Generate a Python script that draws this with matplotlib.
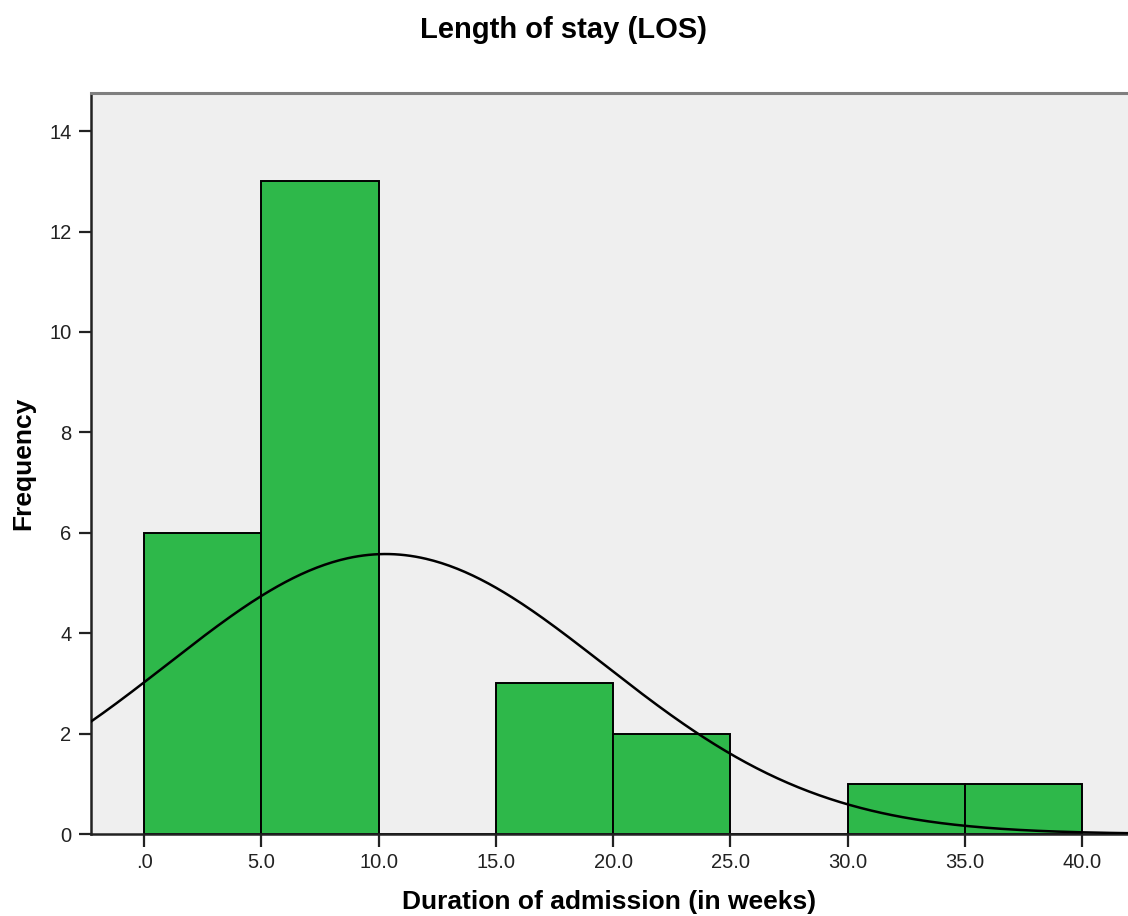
import numpy as np
from matplotlib import pyplot as plt


# histogram of length of stay, 5-week bins
bin_starts = [0, 5, 10, 15, 20, 25, 30, 35]
counts = [6, 13, 0, 3, 2, 0, 1, 1]
bin_width = 5.0

# summary stats used for the normal curve overlay
mean_los = 10.3
sd_los = 9.3
n_cases = 26

x_ticks = [0, 5, 10, 15, 20, 25, 30, 35, 40]
x_tick_labels = ['.0', '5.0', '10.0', '15.0', '20.0', '25.0', '30.0', '35.0', '40.0']
y_ticks = [0, 2, 4, 6, 8, 10, 12, 14]

BAR_GREEN = '#2eb84a'
PANEL_GREY = '#efefef'


def normal_curve(x, mu, sigma, n, width):
    scale = n * width / (sigma * np.sqrt(2.0 * np.pi))
    return scale * np.exp(-0.5 * np.power((x - mu) / sigma, 2))


def do_plot():
    plt.rcParams['font.family'] = ['Liberation Sans', 'DejaVu Sans']
    fig = plt.figure(figsize=(11.28, 9.16), dpi=100)
    ax = fig.add_axes([0.0807, 0.0895, 1.0 - 0.0807, 0.8985 - 0.0895])
    ax.set_facecolor(PANEL_GREY)

    ax.bar(bin_starts, counts, width=bin_width, align='edge',
           color=BAR_GREEN, edgecolor='black', linewidth=1.4, zorder=2)

    xs = np.linspace(-2.3, 42.0, 400)
    ax.plot(xs, normal_curve(xs, mean_los, sd_los, n_cases, bin_width),
            '-k', linewidth=1.8, zorder=3)

    ax.set_xlim(-2.26, 41.96)
    ax.set_ylim(0, 14.76)
    ax.set_xticks(x_ticks)
    ax.set_xticklabels(x_tick_labels)
    ax.set_yticks(y_ticks)
    ax.tick_params(axis='both', direction='out', length=9, width=1.6,
                   color='#222222', labelsize=14.5, labelcolor='#222222', pad=5)

    ax.spines['right'].set_visible(False)
    ax.spines['top'].set_color('#7f7f7f')
    ax.spines['top'].set_linewidth(2.2)
    for side in ('left', 'bottom'):
        ax.spines[side].set_color('#222222')
        ax.spines[side].set_linewidth(1.8)

    ax.set_xlabel('Duration of admission (in weeks)', fontsize=19,
                  fontweight='bold')
    ax.xaxis.set_label_coords(0.5, -0.076)
    ax.set_ylabel('Frequency', fontsize=19, fontweight='bold')
    ax.yaxis.set_label_coords(-0.054, 0.5)
    fig.text(0.5, 1.0 - 30.0 / 916, 'Length of stay (LOS)', fontsize=21,
             fontweight='bold', ha='center', va='center')

    fig.savefig('out.png', dpi=100)
    plt.close(fig)


if __name__ == '__main__':
    do_plot()
